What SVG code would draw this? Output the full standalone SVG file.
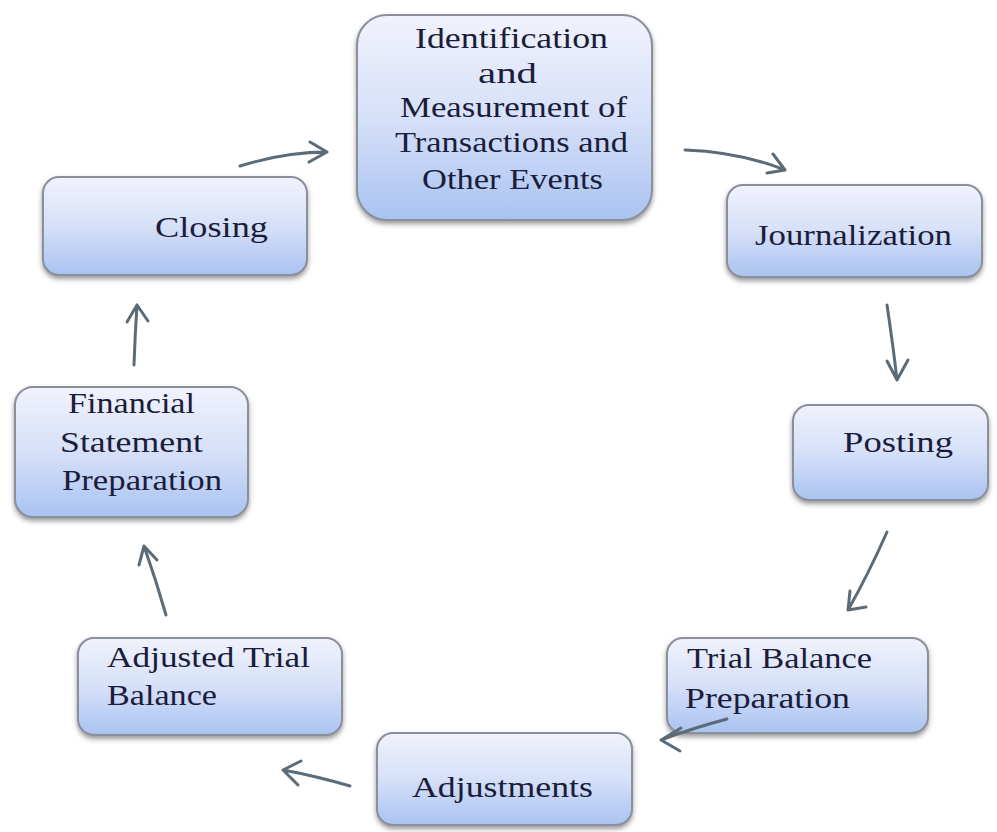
<svg xmlns="http://www.w3.org/2000/svg" width="997" height="832" viewBox="0 0 997 832">
<defs>
<linearGradient id="g" x1="0" y1="0" x2="0" y2="1">
<stop offset="0" stop-color="#f1f2fc"/>
<stop offset="0.5" stop-color="#d6e0f8"/>
<stop offset="1" stop-color="#a9c3f1"/>
</linearGradient>
<filter id="sh" x="-10%" y="-10%" width="120%" height="130%">
<feDropShadow dx="0" dy="3" stdDeviation="2.5" flood-color="#555" flood-opacity="0.6"/>
</filter>
</defs>
<style>
.box{fill:url(#g);stroke:#8b8f9c;stroke-width:2;filter:url(#sh)}
.t{font-size:30px;fill:#1b1d3a}
.c{stroke:#5b6b78;stroke-width:3;fill:none;stroke-linecap:round;stroke-linejoin:round}
</style>
<rect width="997" height="832" fill="#ffffff"/>
<g font-family="Liberation Serif, Tinos, Times New Roman, DejaVu Serif, serif">
<g id="identification">
<rect class="box" x="357" y="15" width="295" height="205" rx="30"/>
<text class="t" x="415" y="48" textLength="193" lengthAdjust="spacingAndGlyphs">Identification</text>
<text class="t" x="478" y="83" textLength="59" lengthAdjust="spacingAndGlyphs">and</text>
<text class="t" x="400" y="117" textLength="227" lengthAdjust="spacingAndGlyphs">Measurement of</text>
<text class="t" x="395" y="152" textLength="233" lengthAdjust="spacingAndGlyphs">Transactions and</text>
<text class="t" x="422" y="189" textLength="181" lengthAdjust="spacingAndGlyphs">Other Events</text>
</g>
<g id="journalization">
<rect class="box" x="727" y="185" width="255" height="92" rx="16"/>
<text class="t" x="755" y="245" textLength="197" lengthAdjust="spacingAndGlyphs">Journalization</text>
</g>
<g id="posting">
<rect class="box" x="793" y="405" width="195" height="95" rx="16"/>
<text class="t" x="843" y="452" textLength="110" lengthAdjust="spacingAndGlyphs">Posting</text>
</g>
<g id="trial-balance">
<rect class="box" x="667" y="638" width="261" height="95" rx="16"/>
<text class="t" x="687" y="668" textLength="185" lengthAdjust="spacingAndGlyphs">Trial Balance</text>
<text class="t" x="685" y="708" textLength="165" lengthAdjust="spacingAndGlyphs">Preparation</text>
</g>
<g id="adjustments">
<rect class="box" x="377" y="733" width="255" height="92" rx="16"/>
<text class="t" x="412" y="797" textLength="181" lengthAdjust="spacingAndGlyphs">Adjustments</text>
</g>
<g id="adjusted-trial-balance">
<rect class="box" x="78" y="638" width="264" height="97" rx="16"/>
<text class="t" x="107" y="667" textLength="203" lengthAdjust="spacingAndGlyphs">Adjusted Trial</text>
<text class="t" x="107" y="705" textLength="110" lengthAdjust="spacingAndGlyphs">Balance</text>
</g>
<g id="financial-statement">
<rect class="box" x="15" y="387" width="233" height="130" rx="18"/>
<text class="t" x="68" y="413" textLength="127" lengthAdjust="spacingAndGlyphs">Financial</text>
<text class="t" x="60" y="452" textLength="143" lengthAdjust="spacingAndGlyphs">Statement</text>
<text class="t" x="62" y="490" textLength="160" lengthAdjust="spacingAndGlyphs">Preparation</text>
</g>
<g id="closing">
<rect class="box" x="43" y="177" width="264" height="98" rx="16"/>
<text class="t" x="155" y="237" textLength="113" lengthAdjust="spacingAndGlyphs">Closing</text>
</g>
</g>
<g id="connectors">
<path class="c" d="M240,166 Q285,152 327,152 M310,142 L327,152 L309,162"/>
<path class="c" d="M685,150 Q740,152 785,170 M773,154 L785,170 L767,173"/>
<path class="c" d="M887,305 Q893,345 897,380 M887,361 L897,380 L908,360"/>
<path class="c" d="M887,532 Q868,575 848,610 M850,591 L848,610 L866,607"/>
<path class="c" d="M727,719 Q693,728 661,740 M681,728 L661,740 L680,751"/>
<path class="c" d="M350,786 Q316,776 283,770 M301,761 L283,770 L298,785"/>
<path class="c" d="M166,615 Q156,580 144,546 M139,565 L144,546 L157,560"/>
<path class="c" d="M134,365 Q135,335 137,305 M127,322 L137,305 L148,321"/>
</g>
</svg>
